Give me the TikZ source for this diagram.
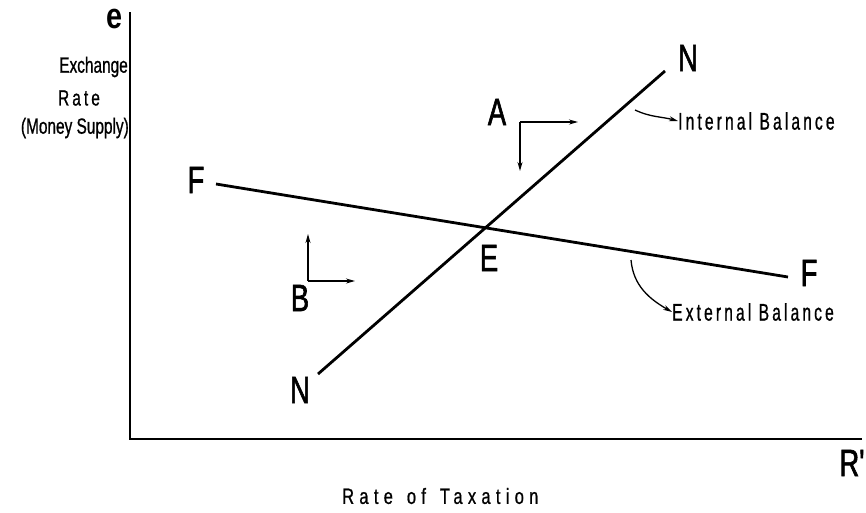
\documentclass[tikz,border=0pt]{standalone}
\usepackage{fontspec}
\setmainfont{Liberation Sans}
\newfontfamily\bigf[FakeStretch=0.72,FakeBold=1.6]{Liberation Sans}
\newfontfamily\ef[FakeStretch=0.8]{Liberation Sans Bold}
\newfontfamily\cond[FakeStretch=0.7,FakeBold=0.8]{Liberation Sans}
\newfontfamily\condsp[FakeStretch=0.7,FakeBold=0.8,LetterSpace=14]{Liberation Sans}
\newfontfamily\labf[FakeStretch=0.65,FakeBold=0.8,LetterSpace=13]{Liberation Sans}
\newfontfamily\condwide[FakeStretch=0.75,FakeBold=0.8,LetterSpace=24]{Liberation Sans}
\usetikzlibrary{arrows.meta}
\begin{document}
\begin{tikzpicture}[x=1pt,y=-1pt,
  axis/.style={line width=2.6pt},
  curve/.style={line width=2.8pt},
  small/.style={line width=1.3pt,-{Stealth[length=9pt,width=5pt]}},
  big/.style={font=\bigf\fontsize{38}{42}\selectfont,inner sep=0pt},
  lab/.style={font=\labf\fontsize{24}{28}\selectfont,inner sep=0pt},
  ylab/.style={font=\cond\fontsize{22}{26}\selectfont,inner sep=0pt}]
\useasboundingbox (0,0) rectangle (866,512);
% axes
\coordinate (o) at (130,439);
\coordinate (ytop) at (130,12);
\coordinate (xend) at (862,439);
\draw[axis] (ytop) -- (o) -- (xend);
% axis labels
\node[inner sep=0pt,font=\ef\fontsize{36}{40}\selectfont] (e) at (115,19) {e};
\node[ylab,anchor=east] (exch) at (128,67) {Exchange};
\node[ylab,font=\condsp\fontsize{22}{26}\selectfont] (rate) at (79,98) {Rate};
\node[ylab,anchor=east] (money) at (129,128) {(Money Supply)};
\node[big] (R) at (852,463) {R'};
\node[font=\condwide\fontsize{22}{26}\selectfont,inner sep=0pt,anchor=west] (tax) at (342,496) {Rate\hspace{14pt}of\hspace{14pt}Taxation};
% NN line
\coordinate (n1) at (318,374);
\coordinate (n2) at (665,71);
\draw[curve] (n1) -- (n2);
\node[big] (Nt) at (688,58) {N};
\node[big] (Nb) at (300,390) {N};
% FF line
\coordinate (f1) at (216,184);
\coordinate (f2) at (788,277);
\draw[curve] (f1) -- (f2);
\node[big] (Fl) at (196,180) {F};
\node[big] (Fr) at (809,273) {F};
% E
\node[big] (E) at (489,258) {E};
% A region
\node[big] (A) at (497,112) {A};
\coordinate (ac) at (520,122);
\coordinate (ar) at (578,122);
\coordinate (ad) at (520,171);
\draw[small] (ac) -- (ar);
\draw[small] (ac) -- (ad);
% B region
\node[big] (B) at (300,298) {B};
\coordinate (bc) at (308,281);
\coordinate (bu) at (308,234);
\coordinate (br) at (355,281);
\draw[small] (bc) -- (bu);
\draw[small] (bc) -- (br);
% balance labels
\node[lab,anchor=west] (ib) at (678,121) {Internal Balance};
\node[lab,anchor=west] (eb) at (672,312) {External Balance};
\coordinate (is) at (635,110);
\coordinate (es) at (631,260);
\draw[small] (is) to[out=-25,in=165] (ib.west);
\draw[small] (es) to[out=-85,in=150] (eb.west);
\end{tikzpicture}
\end{document}
